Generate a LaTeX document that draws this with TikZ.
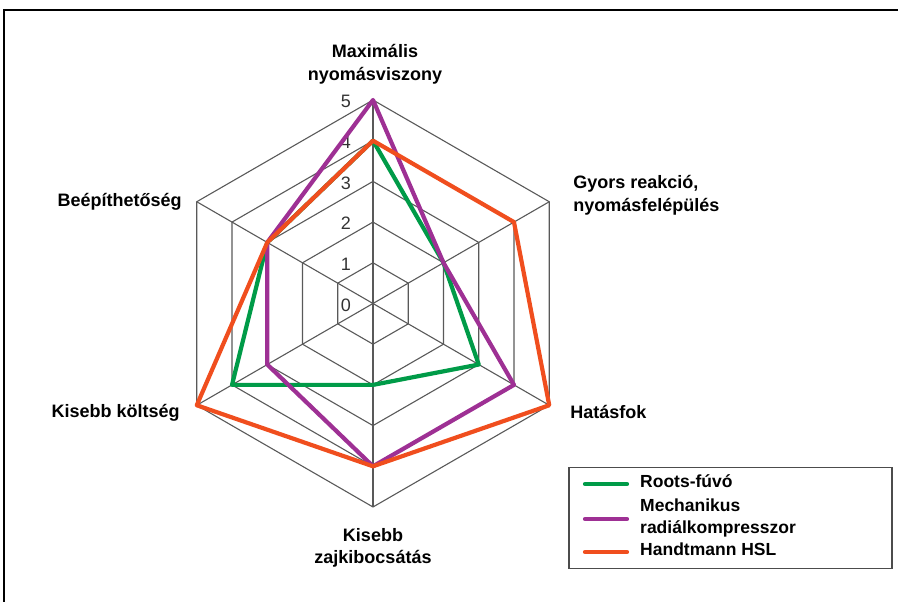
\documentclass[tikz,border=0pt]{standalone}
\usepackage{fontspec}
\setmainfont{Liberation Sans}
\usepackage{tikz}
\usetikzlibrary{positioning, calc}
\definecolor{roots}{RGB}{0,155,72}
\definecolor{mech}{RGB}{158,48,148}
\definecolor{hsl}{RGB}{240,78,30}
\tikzstyle{grid} = [draw = black!65, line width = 1.1]
\tikzstyle{series} = [line width = 4.2, line join = round, line cap = round]
\tikzstyle{axislabel} = [inner sep = 0, align = center,
  font = \fontsize{18}{22.5}\selectfont\bfseries]
\tikzstyle{scalenum} = [inner sep = 0, text = black!80,
  font = \fontsize{18}{18}\selectfont]
\tikzstyle{legendtext} = [inner sep = 0, align = left,
  font = \fontsize{17.5}{21.5}\selectfont\bfseries]

\begin{document}
\begin{tikzpicture}[x = 1pt, y = 1pt]
    \useasboundingbox (0, 0) rectangle (898, 602);
    % frame
    \draw [line width = 1.5] (4, 0) -- (4, 592) -- (898, 592);
    % centre and ring points
    \coordinate (centre) at (373, 298.5);
    \foreach \r in {0, ..., 5} {
      \foreach \ax/\ang in {a/90, b/30, c/-30, d/-90, e/-150, f/150} {
        \coordinate (\ax-\r) at ($(centre) + (\ang:\r*40.7)$);
      }
    }
    % rings
    \foreach \r in {1, ..., 5} {
      \draw [grid] (a-\r) -- (b-\r) -- (c-\r) -- (d-\r) -- (e-\r) -- (f-\r)
      -- cycle;
    }
    % spokes
    \foreach \ax in {a, b, c, d, e, f} {
      \draw [grid] (centre) -- (\ax-5);
    }
    % scale
    \foreach \r in {0, ..., 5} {
      \node [scalenum] (num-\r) at ($(a-\r) + (-27, -1.5)$) {\r};
    }
    % axis labels
    \node [axislabel, above = 16 of a-5, xshift = 2] (lbl-a)
    {Maximális\\nyomásviszony};
    \node [axislabel, right = 24 of b-5, yshift = 6.5, align = left] (lbl-b)
    {Gyors reakció,\\nyomásfelépülés};
    \node [axislabel, right = 21 of c-5, yshift = -6.5] (lbl-c) {Hatásfok};
    \node [axislabel, below = 21 of d-5] (lbl-d) {Kisebb\\zajkibocsátás};
    \node [axislabel, left = 17 of e-5, yshift = -8] (lbl-e) {Kisebb költség};
    \node [axislabel, left = 15 of f-5] (lbl-f) {Beépíthetőség};

    % series
    \draw [series, roots] (a-4) -- (b-2) -- (c-3) -- (d-2) -- (e-4) -- (f-3)
    -- cycle;
    \draw [series, mech] (a-5) -- (b-2) -- (c-4) -- (d-4) -- (e-3) -- (f-3)
    -- cycle;
    \draw [series, hsl] (a-4) -- (b-4) -- (c-5) -- (d-4) -- (e-5) -- (f-3)
    -- cycle;

    % legend
    \node [draw = black!70, line width = 1.5, anchor = north west,
      minimum width = 323, minimum height = 101] (legend) at (568, 135) {};
    \node [legendtext, anchor = base west] (leg-roots)
    at ($(legend.north west) + (72, -21)$) {Roots-fúvó};
    \node [legendtext, anchor = west] (leg-mech)
    at ($(legend.north west) + (72, -51)$) {Mechanikus\\radiálkompresszor};
    \node [legendtext, anchor = base west] (leg-hsl)
    at ($(legend.north west) + (72, -89)$) {Handtmann HSL};
    \draw [series, roots] ($(leg-roots.base west) + (-55, 4)$) -- +(42, 0);
    \draw [series, mech] ($(leg-mech.west) + (-55, -1)$) -- +(42, 0);
    \draw [series, hsl] ($(leg-hsl.base west) + (-55, 4)$) -- +(42, 0);
  \end{tikzpicture}
\end{document}
